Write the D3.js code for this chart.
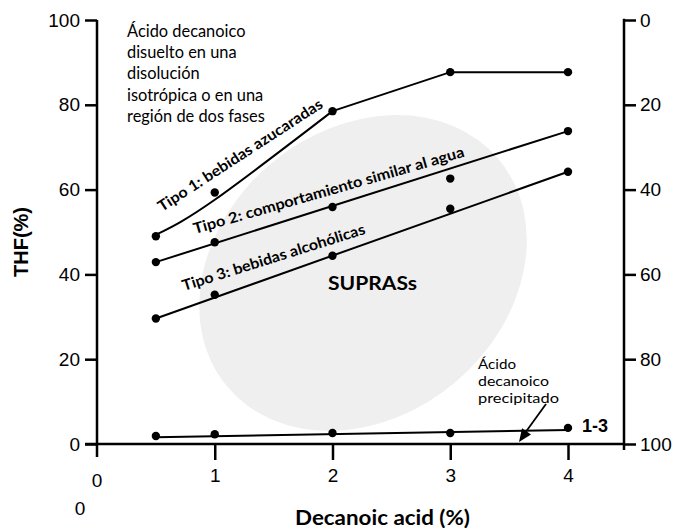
<!DOCTYPE html>
<html>
<head>
<meta charset="utf-8">
<script src="https://cdn.jsdelivr.net/npm/d3@7"></script>
<style>
  html, body { margin: 0; padding: 0; background: #ffffff; }
  svg { display: block; }
</style>
</head>
<body>
<svg id="chart" width="678" height="528"></svg>
<script>
// ---------------- data ----------------
const xValues = [0.5, 1, 2, 3, 4];
const tipo1 = [49.0, 59.3, 78.5, 87.7, 87.7];
const tipo2 = [42.9, 47.6, 55.9, 62.6, 73.8];
const tipo3 = [29.6, 35.2, 44.4, 55.5, 64.2];
const precipitado = [1.9, 2.3, 2.6, 2.6, 3.8];

// trend lines drawn through the points
const tipo1CurveX = [0.52, 1, 2];
const tipo1CurveY = [49.6, 57.6, 78.5];
const tipo1LineX = [2, 3, 4];
const tipo1LineY = [78.5, 87.7, 87.7];
const tipo2FitX = [0.5, 4];
const tipo2FitY = [42.9, 73.8];
const tipo3FitX = [0.5, 4];
const tipo3FitY = [29.6, 64.2];
const precipFitX = [0.5, 4];
const precipFitY = [1.6, 3.3];

const xTicks = [0, 1, 2, 3, 4];
const yTicksLeft = [0, 20, 40, 60, 80, 100];
const yTicksRight = [0, 20, 40, 60, 80, 100];

const labelTipo1 = "Tipo 1: bebidas azucaradas";
const labelTipo2 = "Tipo 2: comportamiento similar al agua";
const labelTipo3 = "Tipo 3: bebidas alcohólicas";
const noteTop = ["Ácido decanoico", "disuelto en una", "disolución", "isotrópica o en una", "región de dos fases"];
const notePrecip = ["Ácido", "decanoico", "precipitado"];
const yTitle = "THF(%)";
const xTitle = "Decanoic acid (%)";

// ---------------- layout ----------------
const svg = d3.select("#chart");
const x = d3.scaleLinear().domain([0, 4]).range([97, 568]);
const y = d3.scaleLinear().domain([0, 100]).range([444, 20]);
const yR = d3.scaleLinear().domain([0, 100]).range([20, 444]);
const xRight = 624;

const sansText = "Lato, 'Open Sans', sans-serif";
const axisFont = "'Liberation Sans', Arial, sans-serif";

// SUPRAS region (light ellipse)
svg.append("ellipse")
  .attr("cx", 363).attr("cy", 273)
  .attr("rx", 177).attr("ry", 143)
  .attr("transform", "rotate(-40,363,273)")
  .attr("fill", "#efefef");

// ---------------- axes ----------------
const axisG = svg.append("g").attr("stroke", "#000").attr("stroke-width", 2.5).attr("fill", "none");
axisG.append("line").attr("x1", x(0)).attr("x2", x(0)).attr("y1", y(100)).attr("y2", y(0) + 13);
axisG.append("line").attr("x1", x(0) - 12).attr("x2", xRight).attr("y1", y(0)).attr("y2", y(0));
axisG.append("line").attr("x1", xRight).attr("x2", xRight).attr("y1", yR(0) - 1.2).attr("y2", yR(100) + 6);

const fmt = d3.format("d");

// left axis ticks & labels
const leftAxis = d3.axisLeft(y).tickValues(yTicksLeft).tickFormat(fmt).tickSize(12).tickPadding(5).tickSizeOuter(0);
const gl = svg.append("g").attr("transform", `translate(${x(0)},0)`).call(leftAxis);
gl.select(".domain").remove();
gl.selectAll(".tick line").attr("stroke", "#000").attr("stroke-width", 2.5);
gl.selectAll(".tick text").attr("font-family", axisFont).attr("font-size", 19).attr("fill", "#000");

// right axis ticks & labels
const rightAxis = d3.axisRight(yR).tickValues(yTicksRight).tickFormat(fmt).tickSize(12).tickPadding(4).tickSizeOuter(0);
const gr = svg.append("g").attr("transform", `translate(${xRight},0)`).call(rightAxis);
gr.select(".domain").remove();
gr.selectAll(".tick line").attr("stroke", "#000").attr("stroke-width", 2.5);
gr.selectAll(".tick text").attr("font-family", axisFont).attr("font-size", 19).attr("fill", "#000");

// bottom axis ticks & labels
const bottomAxis = d3.axisBottom(x).tickValues(xTicks.filter(d => d > 0)).tickFormat(fmt).tickSize(16).tickPadding(9).tickSizeOuter(0);
const gb = svg.append("g").attr("transform", `translate(0,${y(0)})`).call(bottomAxis);
gb.select(".domain").remove();
gb.selectAll(".tick line").attr("stroke", "#000").attr("stroke-width", 2.5);
gb.selectAll(".tick text").attr("font-family", axisFont).attr("font-size", 19).attr("fill", "#000");
svg.append("text").attr("x", x(0)).attr("y", 487).attr("text-anchor", "middle")
  .attr("font-family", axisFont).attr("font-size", 19).text(fmt(xTicks[0]));
svg.append("text").attr("x", 80).attr("y", 515).attr("text-anchor", "middle")
  .attr("font-family", axisFont).attr("font-size", 19).text(fmt(xTicks[0]));

// axis titles
svg.append("text")
  .attr("transform", "translate(28,242) rotate(-90)")
  .attr("text-anchor", "middle")
  .attr("font-family", axisFont).attr("font-weight", "bold").attr("font-size", 20)
  .text(yTitle);
svg.append("text")
  .attr("x", 295).attr("y", 525)
  .attr("font-family", sansText).attr("font-weight", "bold").attr("font-size", 20)
  .attr("textLength", 175).attr("lengthAdjust", "spacingAndGlyphs")
  .text(xTitle);

// ---------------- lines ----------------
const lineG = svg.append("g").attr("fill", "none").attr("stroke", "#000").attr("stroke-width", 2);
const toPts = (xs, ys) => xs.map((d, i) => [d, ys[i]]);
const lin = d3.line().x(d => x(d[0])).y(d => y(d[1]));
const smooth = d3.line().x(d => x(d[0])).y(d => y(d[1])).curve(d3.curveNatural);

lineG.append("path").attr("d", smooth(toPts(tipo1CurveX, tipo1CurveY)));
lineG.append("path").attr("d", lin(toPts(tipo1LineX, tipo1LineY)));
lineG.append("path").attr("d", lin(toPts(tipo2FitX, tipo2FitY)));
lineG.append("path").attr("d", lin(toPts(tipo3FitX, tipo3FitY)));
lineG.append("path").attr("d", lin(toPts(precipFitX, precipFitY)));

// ---------------- points ----------------
const series = [tipo1, tipo2, tipo3, precipitado];
series.forEach(s => {
  svg.append("g").selectAll("circle")
    .data(toPts(xValues, s))
    .join("circle")
    .attr("cx", d => x(d[0])).attr("cy", d => y(d[1]))
    .attr("r", 4.2).attr("fill", "#000");
});

// ---------------- annotations ----------------
function rotLabel(txt, px, py, angle, len) {
  svg.append("text")
    .attr("transform", `translate(${px},${py}) rotate(${angle})`)
    .attr("font-family", sansText).attr("font-weight", "bold").attr("font-size", 15)
    .attr("textLength", len).attr("lengthAdjust", "spacingAndGlyphs")
    .attr("fill", "#000")
    .text(txt);
}
rotLabel(labelTipo1, 162, 212, -33, 193);
rotLabel(labelTipo2, 195, 234, -16, 281);
rotLabel(labelTipo3, 184, 291, -17.5, 191);

svg.append("text")
  .attr("x", 328).attr("y", 290)
  .attr("font-family", sansText).attr("font-weight", "bold").attr("font-size", 19)
  .attr("textLength", 89).attr("lengthAdjust", "spacingAndGlyphs")
  .text("SUPRASs");

svg.append("g").selectAll("text")
  .data(noteTop)
  .join("text")
  .attr("x", 127).attr("y", (d, i) => 37 + i * 21.2)
  .attr("font-family", sansText).attr("font-size", 16.4)
  .text(d => d);

svg.append("g").selectAll("text")
  .data(notePrecip)
  .join("text")
  .attr("x", 478).attr("y", (d, i) => 369 + i * 17)
  .attr("font-family", sansText).attr("font-size", 14)
  .attr("textLength", (d, i) => [38, 71, 81][i]).attr("lengthAdjust", "spacingAndGlyphs")
  .text(d => d);

// arrow
svg.append("line")
  .attr("x1", 546).attr("y1", 404).attr("x2", 525).attr("y2", 433)
  .attr("stroke", "#000").attr("stroke-width", 1.8);
(function () {
  const tipX = 519, tipY = 442, ang = Math.atan2(442 - 404, 519 - 546);
  const L = 13, W = 5.5;
  const bx = tipX - L * Math.cos(ang), by = tipY - L * Math.sin(ang);
  const px = -Math.sin(ang) * W, py = Math.cos(ang) * W;
  svg.append("path")
    .attr("d", `M${tipX},${tipY} L${bx + px},${by + py} L${bx - px},${by - py} Z`)
    .attr("fill", "#000");
})();

svg.append("text")
  .attr("x", 582).attr("y", 432)
  .attr("font-family", axisFont).attr("font-weight", "bold").attr("font-size", 18)
  .text("1-3");
</script>
</body>
</html>
